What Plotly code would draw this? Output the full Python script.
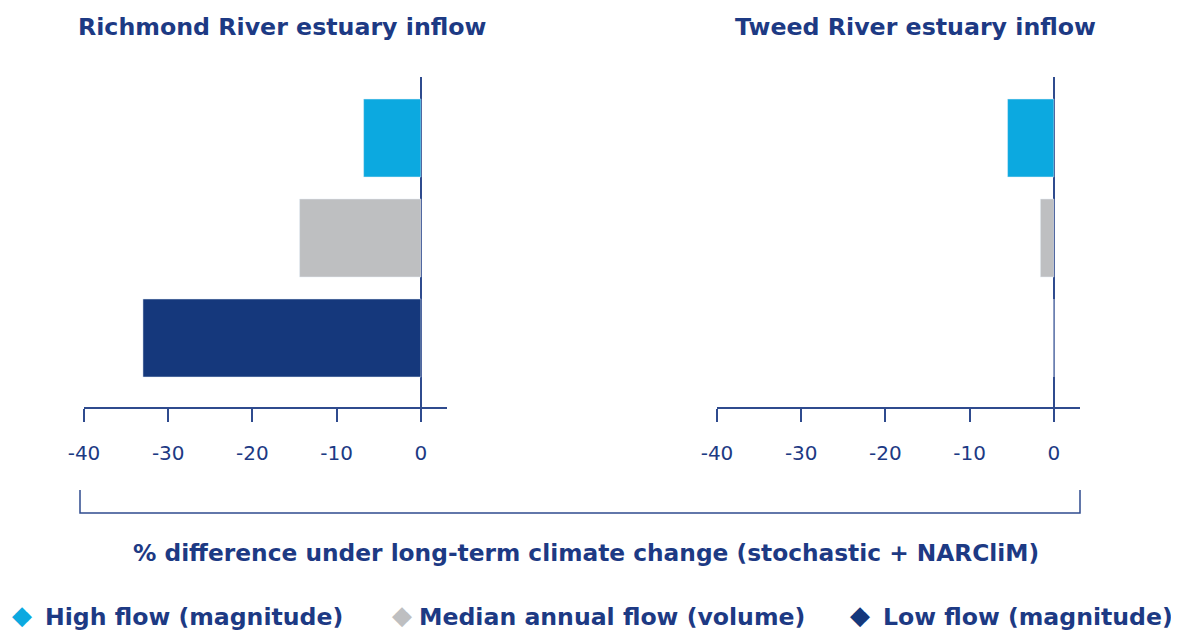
import plotly.graph_objects as go

categories = ["High flow (magnitude)", "Median annual flow (volume)", "Low flow (magnitude)"]
richmond = [-6.8, -14.4, -33.0]
tweed = [-5.5, -1.6, 0.0]
colors = ["#0CA9E0", "#BEBFC1", "#15387C"]
panel_titles = ["Richmond River estuary inflow", "Tweed River estuary inflow"]
tick_vals = [-40, -30, -20, -10, 0]
tick_text = ["-40", "-30", "-20", "-10", "0"]
x_title = "% difference under long-term climate change (stochastic + NARCliM)"

NAVY = "#1D3A84"
AXIS = "#2F4B8E"
BOLD = "DejaVu Sans"
OFF = 8  # default page body margin
W, H = 1179 - OFF, 630 - OFF


def px(x):
    return (x - OFF) / W


def py(y):
    return 1 - (y - OFF) / H


fig = go.Figure()
fig.add_trace(go.Bar(x=richmond, y=categories, orientation="h", marker_color=colors,
                     width=0.78, xaxis="x", yaxis="y", showlegend=False, hoverinfo="x+y"))
fig.add_trace(go.Bar(x=tweed, y=categories, orientation="h", marker_color=colors,
                     width=0.78, xaxis="x2", yaxis="y2", showlegend=False, hoverinfo="x+y"))

xcommon = dict(range=[-40, 3.1], tickvals=tick_vals, ticktext=tick_text, showgrid=False,
               showline=True, linecolor=AXIS, linewidth=1.5, ticks="outside", ticklen=13,
               tickwidth=1.5, tickcolor=AXIS, zeroline=True, zerolinecolor=AXIS,
               zerolinewidth=1.5, automargin=False, ticklabelstandoff=14,
               tickfont=dict(family="DejaVu Sans", size=20, color=NAVY), fixedrange=True)
ycommon = dict(domain=[py(407), py(77)], range=[2.69, -0.61], visible=False,
               showgrid=False, fixedrange=True, automargin=False)

fig.update_layout(
    width=W, height=H,
    margin=dict(l=0, r=0, t=0, b=0, autoexpand=False),
    paper_bgcolor="white", plot_bgcolor="white",
    xaxis=dict(domain=[px(84), px(447)], anchor="y", **xcommon),
    xaxis2=dict(domain=[px(717), px(1080)], anchor="y2", **xcommon),
    yaxis=dict(anchor="x", **ycommon),
    yaxis2=dict(anchor="x2", **ycommon),
    bargap=0.2,
)

for title, xc in zip(panel_titles, [282, 915]):
    fig.add_annotation(text=f"<b>{title}</b>", x=px(xc), y=py(27), xref="paper", yref="paper",
                       showarrow=False, xanchor="center", yanchor="middle",
                       font=dict(family=BOLD, size=23.7, color=NAVY))

fig.add_shape(type="path", xref="paper", yref="paper",
              path=f"M {px(80)},{py(490)} L {px(80)},{py(513)} L {px(1080)},{py(513)} L {px(1080)},{py(490)}",
              line=dict(color=AXIS, width=1.5))
fig.add_annotation(text=f"<b>{x_title}</b>", x=px(586), y=py(552), xref="paper", yref="paper",
                   showarrow=False, xanchor="center", yanchor="middle",
                   font=dict(family=BOLD, size=23.3, color=NAVY))

diamond_x = [22, 402, 860]
text_x = [43, 417, 881]
for name, c, dx, tx in zip(categories, colors, diamond_x, text_x):
    fig.add_annotation(text="◆", x=px(dx), y=py(615), xref="paper", yref="paper",
                       showarrow=False, xanchor="center", yanchor="middle",
                       font=dict(family="DejaVu Sans", size=26, color=c))
    fig.add_annotation(text=f"<b>{name}</b>", x=px(tx), y=py(617), xref="paper", yref="paper",
                       showarrow=False, xanchor="left", yanchor="middle",
                       font=dict(family=BOLD, size=23.6, color=NAVY))

fig.write_html("out.html")
